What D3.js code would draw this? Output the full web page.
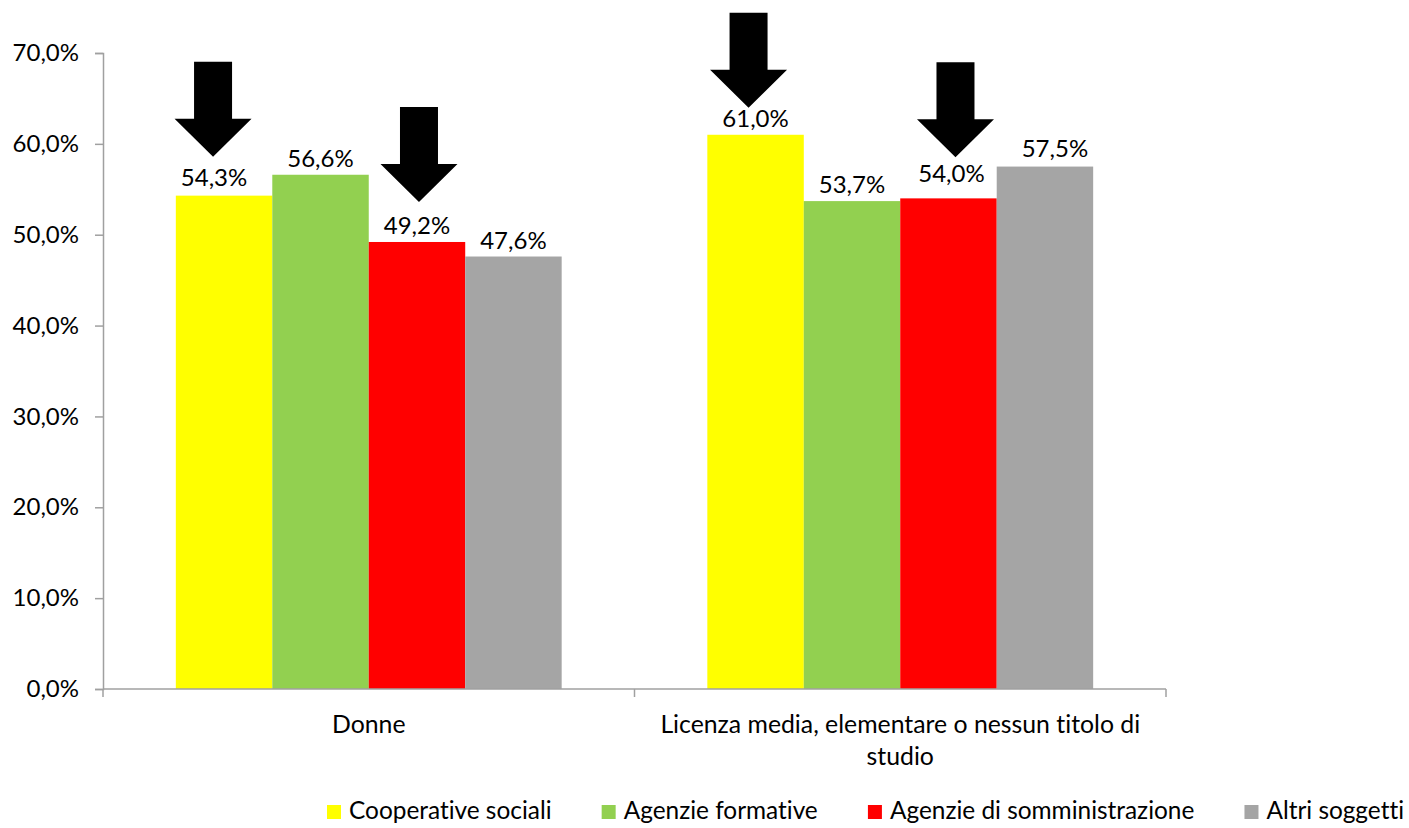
<!DOCTYPE html>
<html>
<head>
<meta charset="utf-8">
<script src="https://cdn.jsdelivr.net/npm/d3@7"></script>
<style>
  html, body { margin: 0; padding: 0; background: #fff; }
  svg { display: block; font-family: Lato, "Open Sans", sans-serif; font-variant-ligatures: none; }
</style>
</head>
<body>
<svg id="chart" width="1409" height="828"></svg>
<script>
// Categories, series and values (shares)
const categories = ["Donne", "Licenza media, elementare o nessun titolo di studio"];
const series = ["Cooperative sociali", "Agenzie formative", "Agenzie di somministrazione", "Altri soggetti"];
const cooperativeSociali = [0.543, 0.610];
const agenzieFormative = [0.566, 0.537];
const agenzieSomministrazione = [0.492, 0.540];
const altriSoggetti = [0.476, 0.575];
const seriesColors = ["#FFFF00", "#92D050", "#FF0000", "#A5A5A5"];
const yTicks = [0, 0.1, 0.2, 0.3, 0.4, 0.5, 0.6, 0.7];

// Highlight arrows: [series index, category index]
const arrowMarks = [[0, 0], [2, 0], [0, 1], [2, 1]];
const arrowNudgeX = [-11, 2, -7, 7];
const arrowGap = [39, 40, 27, 41];

// Small manual nudges of value labels [series][category]
const labelNudgeX = [[-10, 0], [0, 0], [0, 3], [0, 10]];
const labelNudgeY = [[-2, 0], [0, 0], [0, -8], [0, -2]];

const valuesBySeries = [cooperativeSociali, agenzieFormative, agenzieSomministrazione, altriSoggetti];

const it = d3.formatLocale({ decimal: ",", thousands: ".", grouping: [3], currency: ["€", ""] });
const pct = it.format(".1%");

const svg = d3.select("#chart");
const margin = { left: 103, right: 243, top: 53, bottom: 139 };
const W = 1409, H = 828;
const x0 = d3.scaleBand().domain(categories).range([margin.left, W - margin.right]).paddingInner(0).paddingOuter(0);
const x1 = d3.scaleBand().domain(series).range([0, x0.bandwidth()]).paddingInner(0).paddingOuter(0.755);
const y = d3.scaleLinear().domain([0, 0.7]).range([H - margin.bottom, margin.top]);
const color = d3.scaleOrdinal().domain(series).range(seriesColors);

const NUM_FONT = 24;
const TXT_FONT = 24.8;
const LEG_FONT = 24.4;
const axisColor = "#a0a0a0";

// Bars
const groups = svg.append("g").selectAll("g")
  .data(categories)
  .join("g")
  .attr("transform", d => `translate(${x0(d)},0)`);

groups.selectAll("rect")
  .data((c, ci) => series.map((s, si) => ({ s, si, ci, v: valuesBySeries[si][ci] })))
  .join("rect")
  .attr("x", d => x1(d.s))
  .attr("width", x1.bandwidth())
  .attr("y", d => y(d.v))
  .attr("height", d => y(0) - y(d.v))
  .attr("fill", d => color(d.s));

// Value labels
groups.selectAll("text.val")
  .data((c, ci) => series.map((s, si) => ({ s, si, ci, v: valuesBySeries[si][ci] })))
  .join("text")
  .attr("class", "val")
  .attr("x", d => x1(d.s) + x1.bandwidth() / 2 + labelNudgeX[d.si][d.ci])
  .attr("y", d => y(d.v) - 8 + labelNudgeY[d.si][d.ci])
  .attr("text-anchor", "middle")
  .attr("font-size", NUM_FONT)
  .attr("fill", "#000")
  .text(d => pct(d.v));

// Y axis
const yAxis = svg.append("g")
  .attr("transform", `translate(${margin.left},0)`)
  .call(d3.axisLeft(y).tickValues(yTicks).tickFormat(pct).tickSize(8).tickPadding(16));
yAxis.select(".domain").attr("stroke", axisColor).attr("stroke-width", 1.5);
yAxis.selectAll(".tick line").attr("stroke", axisColor).attr("stroke-width", 1.5);
yAxis.selectAll(".tick text").attr("font-size", NUM_FONT).attr("fill", "#000").attr("font-family", "Lato, sans-serif");

// X axis: line with ticks at category boundaries
const xAxisG = svg.append("g").attr("transform", `translate(0,${y(0)})`);
xAxisG.append("line")
  .attr("x1", margin.left).attr("x2", W - margin.right)
  .attr("stroke", axisColor).attr("stroke-width", 1.5);
const boundaries = categories.map(c => x0(c)).concat([x0(categories[categories.length - 1]) + x0.bandwidth()]);
xAxisG.selectAll("line.tk")
  .data(boundaries)
  .join("line")
  .attr("class", "tk")
  .attr("x1", d => d).attr("x2", d => d)
  .attr("y1", 0).attr("y2", 8)
  .attr("stroke", axisColor).attr("stroke-width", 1.5);

// Category labels, wrapped within the band
const catText = xAxisG.selectAll("text.cat")
  .data(categories)
  .join("text")
  .attr("class", "cat")
  .attr("text-anchor", "middle")
  .attr("font-size", TXT_FONT)
  .attr("fill", "#000")
  .attr("x", d => x0(d) + x0.bandwidth() / 2)
  .attr("y", 44);

catText.each(function (d) {
  const t = d3.select(this);
  const maxW = 500;
  const words = d.split(" ");
  let line = [];
  let tspan = t.append("tspan").attr("x", t.attr("x")).attr("dy", 0);
  words.forEach(w => {
    line.push(w);
    tspan.text(line.join(" "));
    if (tspan.node().getComputedTextLength() > maxW && line.length > 1) {
      line.pop();
      tspan.text(line.join(" "));
      line = [w];
      tspan = t.append("tspan").attr("x", t.attr("x")).attr("dy", 32).text(w);
    }
  });
});

// Highlight arrows pointing down at selected bars
const arrowShape = (tx, ty) => {
  const shaftW = 38, headW = 77, headH = 38, total = 95;
  const p = [
    [tx - shaftW / 2, ty - total],
    [tx + shaftW / 2, ty - total],
    [tx + shaftW / 2, ty - headH],
    [tx + headW / 2, ty - headH],
    [tx, ty],
    [tx - headW / 2, ty - headH],
    [tx - shaftW / 2, ty - headH]
  ];
  return "M" + p.map(q => q.join(",")).join("L") + "Z";
};
svg.append("g").selectAll("path")
  .data(arrowMarks)
  .join("path")
  .attr("d", (m, i) => {
    const [si, ci] = m;
    const s = series[si], c = categories[ci];
    const cx = x0(c) + x1(s) + x1.bandwidth() / 2 + arrowNudgeX[i];
    const ty = y(valuesBySeries[si][ci]) - arrowGap[i];
    return arrowShape(cx, ty);
  })
  .attr("fill", "#000");

// Legend: entries spread between a left and right edge with equal gaps
const legend = svg.append("g").attr("transform", `translate(0,819)`);
const legLeft = 327, legRight = 1404, swatch = 14, swatchGap = 8;
const items = series.map(s => {
  const g = legend.append("g");
  g.append("rect").attr("y", -swatch).attr("width", swatch).attr("height", swatch).attr("fill", color(s));
  const t = g.append("text").attr("x", swatch + swatchGap).attr("y", 0)
    .attr("font-size", LEG_FONT).attr("fill", "#000").text(s);
  return { g, w: swatch + swatchGap + t.node().getComputedTextLength() };
});
const totalW = d3.sum(items, d => d.w);
const gap = (legRight - legLeft - totalW) / (items.length - 1);
let lx = legLeft;
items.forEach(d => {
  d.g.attr("transform", `translate(${lx},0)`);
  lx += d.w + gap;
});
</script>
</body>
</html>
